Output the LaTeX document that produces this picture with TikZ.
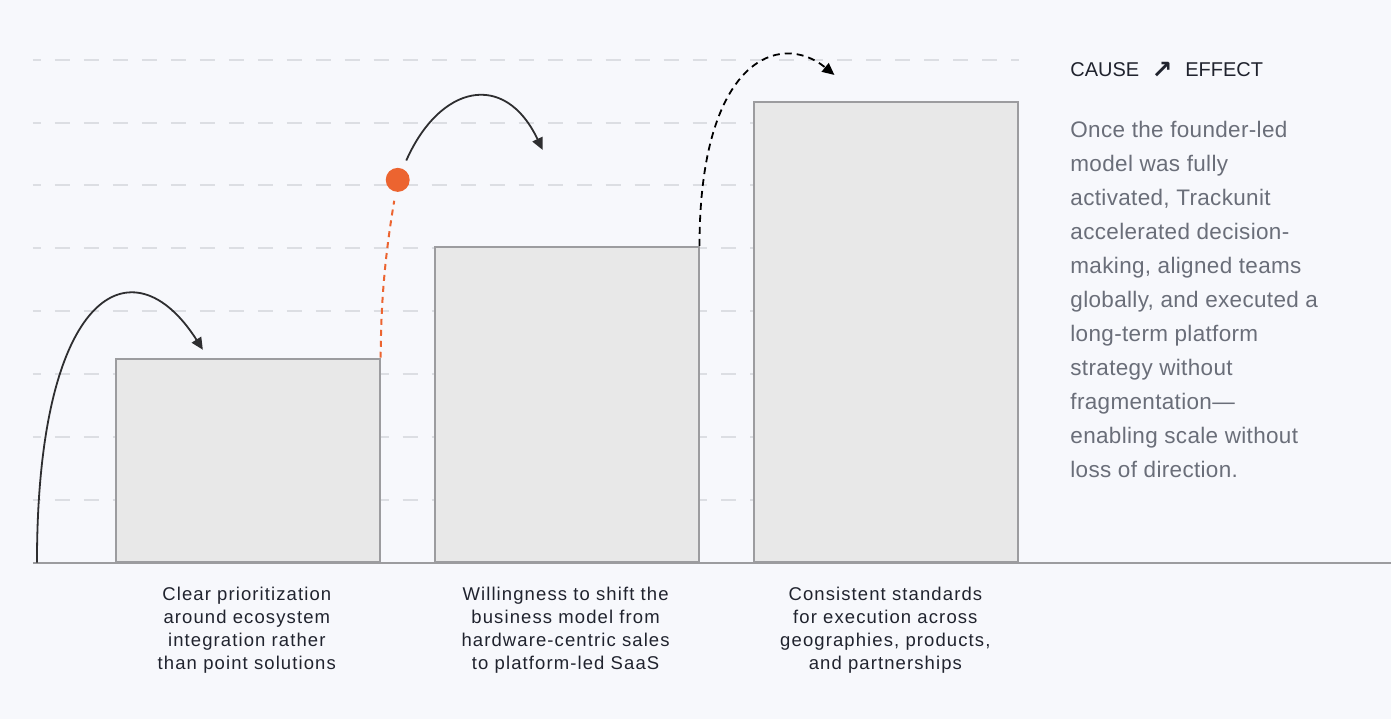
\documentclass[tikz,border=0pt]{standalone}
\usepackage{fontspec}
\setmainfont{Liberation Sans}
\newfontfamily\arrowfont{DejaVu Sans}
\newfontfamily\captionfont[LetterSpace=6]{Liberation Sans}
\newfontfamily\notefont[LetterSpace=1.5]{Liberation Sans}
\usetikzlibrary{arrows.meta}

\definecolor{pagebg}{HTML}{F7F8FC}
\definecolor{gridgray}{HTML}{DCDEE3}
\definecolor{barfill}{HTML}{E8E8E8}
\definecolor{barline}{HTML}{9C9C9F}
\definecolor{inkdark}{HTML}{2E2E30}
\definecolor{sparkorange}{HTML}{EC6430}
\definecolor{labelink}{HTML}{20232E}
\definecolor{noteink}{HTML}{6A6E79}

\begin{document}
\begin{tikzpicture}[x=1pt,y=-1pt,
	gridline/.style={draw=gridgray,line width=2pt,dash pattern=on 15pt off 14pt,dash phase=7pt},
	bar/.style={draw=barline,fill=barfill,line width=2pt,anchor=south west,minimum width=264pt},
	jump/.style={draw=inkdark,line width=1.8pt,-{Triangle[length=12pt,width=11pt]}},
	caption/.style={align=center,inner sep=0pt,anchor=north,text=labelink,
		font=\captionfont\fontsize{18.5}{23}\selectfont},
	note/.style={align=left,inner sep=0pt,anchor=north west,text=noteink,
		font=\notefont\fontsize{22.5}{34}\selectfont}]
	\fill[pagebg] (0,0) rectangle (1392,720);
	% guide lines
	\foreach \y in {60,123,185,248,311,374,437,500}
		\draw[gridline] (33,\y) -- (1020,\y);
	% bars
	\node[bar,minimum height=203pt] (bar1) at (115,563) {};
	\node[bar,minimum height=315pt] (bar2) at (434,563) {};
	\node[bar,minimum height=460pt] (bar3) at (754,563) {};
	\draw[barline,line width=2pt] (33,563) -- (1392,563);
	% jumps
	\coordinate (lift) at (37,563);
	\coordinate (land1) at (203,350);
	\coordinate (land2) at (543,150);
	\coordinate (land3) at (835,75);
	\node[circle,fill=sparkorange,inner sep=0pt,minimum size=24pt] (dot) at (398,180) {};
	\draw[jump] (lift) .. controls (37,290) and (133,240) .. (land1);
	\draw[sparkorange,line width=2pt,dash pattern=on 6pt off 5pt,shorten >=9pt]
		(bar1.north east) .. controls (381,290) and (388,240) .. (dot);
	\draw[jump,shorten <=9pt] (dot) .. controls (440,85) and (505,70) .. (land2);
	\draw[jump,draw=black,dash pattern=on 7pt off 5pt] (bar2.north east) .. controls (700,60) and (780,30) .. (land3);
	% captions
	\node[caption] (cap1) at (247,587) {Clear prioritization\\around ecosystem\\integration rather\\than point solutions};
	\node[caption] (cap2) at (566,587) {Willingness to shift the\\business model from\\hardware-centric sales\\to platform-led SaaS};
	\node[caption] (cap3) at (886,587) {Consistent standards\\for execution across\\geographies, products,\\and partnerships};
	% side text
	\node[anchor=west,inner sep=0pt,text=labelink,font=\fontsize{20}{24}\selectfont] (cause) at (1071,70) {CAUSE};
	\node[inner sep=0pt,text=labelink,font=\arrowfont\bfseries\fontsize{25}{28}\selectfont] (turn) at (1163,70) {↗};
	\node[anchor=west,inner sep=0pt,text=labelink,font=\fontsize{20}{24}\selectfont] (effect) at (1186,70) {EFFECT};
	\node[note] (story) at (1071,121.5) {Once the founder-led\\model was fully\\activated, Trackunit\\accelerated decision-\\making, aligned teams\\globally, and executed a\\long-term platform\\strategy without\\fragmentation—\\enabling scale without\\loss of direction.};
\end{tikzpicture}
\end{document}
